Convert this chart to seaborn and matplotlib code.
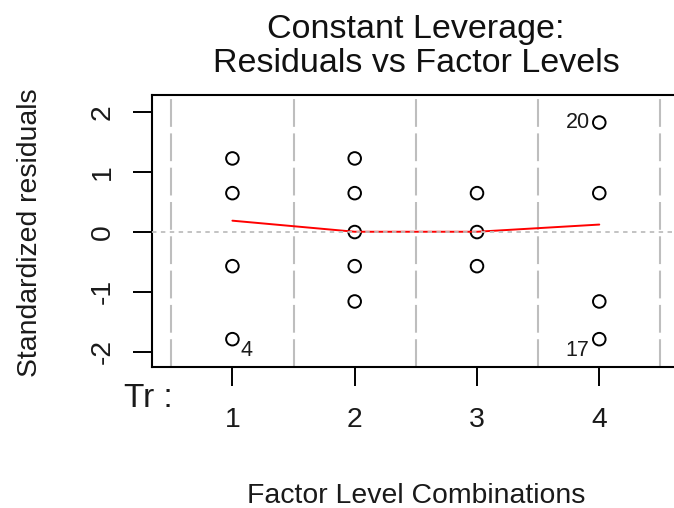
import matplotlib
matplotlib.use("Agg")
import matplotlib.pyplot as plt
import seaborn as sns
import pandas as pd

# Treatment level (factor) for each observation and its standardized residual
level = [1, 1, 1, 1, 2, 2, 2, 2, 2, 3, 3, 3, 4, 4, 4, 4]
std_resid = [1.23, 0.65, -0.57, -1.79,
             1.23, 0.65, 0.0, -0.57, -1.16,
             0.65, 0.0, -0.57,
             1.83, 0.65, -1.16, -1.79]

# Smoothed trend of the residuals across levels
smooth_level = [1, 2, 3, 4]
smooth_resid = [0.19, 0.005, 0.005, 0.125]

# Labelled observations: (observation id, level, residual)
flag_ids = ["4", "20", "17"]
flag_level = [1, 4, 4]
flag_resid = [-1.79, 1.83, -1.79]

level_ticks = [1, 2, 3, 4]
level_labels = ["1", "2", "3", "4"]
resid_ticks = [-2, -1, 0, 1, 2]

sns.set_theme(style="white")
plt.rcParams["font.family"] = ["Liberation Sans", "DejaVu Sans"]
plt.rcParams["lines.scale_dashes"] = False

df = pd.DataFrame({"level": level, "resid": std_resid})
sm = pd.DataFrame({"level": smooth_level, "resid": smooth_resid})

W, H = 674, 508
fig = plt.figure(figsize=(W / 100, H / 100), dpi=100)
left, right, top, bottom = 151.7, 680.0, 95.0, 366.7
ax = fig.add_axes([left / W, 1 - bottom / H, (right - left) / W, (bottom - top) / H])

ax.set_xlim(0.34, 4.66)
ax.set_ylim(-2.25, 2.29)

# points
sns.scatterplot(data=df, x="level", y="resid", ax=ax, marker="o", s=82,
                facecolor="none", edgecolor="black", linewidth=1.4, zorder=3)

# level separators
for v in [0.5, 1.5, 2.5, 3.5, 4.5]:
    ax.axvline(v, color="#BEBEBE", lw=1.5, linestyle=(0, (20, 4.7)), zorder=1)

# smoother
sns.lineplot(data=sm, x="level", y="resid", ax=ax, color="red", lw=1.4, zorder=4)

# zero reference
ax.axhline(0, color="#BEBEBE", lw=1.3, linestyle=(0, (3.2, 3.2)), zorder=5)

# observation labels
for lab, lx, ly in zip(flag_ids, flag_level, flag_resid):
    if lx > 2.5:
        ax.annotate(lab, (lx, ly), xytext=(-7, -8 if ly < 0 else 0), textcoords="offset points",
                    ha="right", va="center", fontsize=15.5, color="#1a1a1a")
    else:
        ax.annotate(lab, (lx, ly), xytext=(6, -8), textcoords="offset points",
                    ha="left", va="center", fontsize=15.5, color="#1a1a1a")

ax.set_xticks(level_ticks)
ax.set_xticklabels(level_labels)
ax.set_yticks(resid_ticks)
ax.set_yticklabels([str(t) for t in resid_ticks])
ax.set_xlabel("")
ax.set_ylabel("")

for s in ax.spines.values():
    s.set_color("black")
    s.set_linewidth(1.5)
ax.spines["right"].set_visible(False)

ax.tick_params(axis="both", which="major", direction="out", length=13.7, width=1.4,
               color="black", labelsize=20.4, labelcolor="#1a1a1a", bottom=True, left=True)
ax.tick_params(axis="x", pad=15)
ax.tick_params(axis="y", pad=12, labelrotation=90)
for t in ax.get_yticklabels():
    t.set_va("center")

# factor name
ax.text(0.51, -2.25 - 40.3 / 60.1, "Tr :", fontsize=24, ha="right", va="baseline",
        color="#1a1a1a", clip_on=False)

fig.text(416 / W, 1 - 38 / H, "Constant Leverage:", ha="center", va="baseline",
         fontsize=24.5, color="#111111")
fig.text(416 / W, 1 - 72 / H, "Residuals vs Factor Levels", ha="center", va="baseline",
         fontsize=24.5, color="#111111")
fig.text(416 / W, 1 - 503 / H, "Factor Level Combinations", ha="center", va="baseline",
         fontsize=20.4, color="#1a1a1a")
fig.text(30 / W, 1 - 233 / H, "Standardized residuals", rotation=90, ha="center",
         va="center", fontsize=20.4, color="#1a1a1a")

fig.savefig("out.png", dpi=100)
